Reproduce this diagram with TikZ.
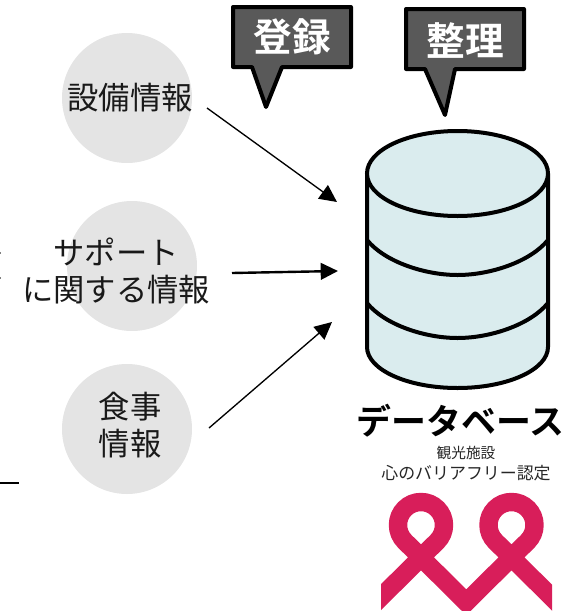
\documentclass[tikz,border=0pt]{standalone}
\usepackage{fontspec}
\setmainfont{Noto Sans CJK JP}
\newfontfamily\boldjp{Noto Sans CJK JP Bold}
\usetikzlibrary{arrows.meta}
\definecolor{circlegray}{RGB}{228,228,228}
\definecolor{calloutgray}{RGB}{89,89,89}
\definecolor{dbfill}{RGB}{218,236,238}
\definecolor{ribbonred}{RGB}{216,30,90}
\tikzset{
	infocircle/.style={circle,fill=circlegray,inner sep=0pt,minimum size=97.5pt},
	infotext/.style={inner sep=0pt,align=center,font=\fontsize{23.5}{28}\selectfont,text=black!90},
	calloutshape/.style={draw=black,fill=calloutgray,line width=3pt,line join=round},
	callouttext/.style={inner sep=0pt,text=white,font=\boldjp\fontsize{29}{34}\selectfont},
	dbline/.style={draw=black,line width=3pt},
	feedarrow/.style={-{Triangle[length=13pt,width=12.5pt]},line width=1pt},
}
\begin{document}
\begin{tikzpicture}[x=0.75pt,y=0.75pt,yscale=-1,xscale=1]
	\useasboundingbox (0,0) rectangle (564,611);
	% circles
	\node[infocircle] (equipcircle) at (127,98) {};
	\node[infocircle] (supportcircle) at (132,266) {};
	\node[infocircle] (mealcircle) at (127,429) {};
	\node[infotext] (equiptext) at (130,98) {設備情報};
	\node[infotext] (supporttext) at (116,271) {サポート\\に関する情報};
	\node[infotext] (mealtext) at (130,425) {食事\\情報};
	% left edge marks
	\coordinate (stubstart) at (0,483);
	\coordinate (stubend) at (19,483);
	\draw[line width=2pt] (stubstart) -- (stubend);
	\coordinate (marktop) at (0,253);
	\coordinate (marktopend) at (1.5,253);
	\coordinate (markbottom) at (0,278);
	\coordinate (markbottomend) at (1.5,278);
	\draw[black!50,line width=1.5pt] (marktop) -- (marktopend);
	\draw[black!50,line width=1.5pt] (markbottom) -- (markbottomend);
	% arrows
	\coordinate (equipout) at (207,108);
	\coordinate (equipin) at (337,202);
	\coordinate (supportout) at (232,273);
	\coordinate (supportin) at (338,271);
	\coordinate (mealout) at (209,428);
	\coordinate (mealin) at (332,322);
	\draw[feedarrow] (equipout) -- (equipin);
	\draw[feedarrow,line width=1.8pt] (supportout) -- (supportin);
	\draw[feedarrow] (mealout) -- (mealin);
	% callouts
	\draw[calloutshape] (233,7) -- (351,7) -- (351,67) -- (282,67) -- (266,107) -- (252,67) -- (233,67) -- cycle;
	\draw[calloutshape] (406,9) -- (524,9) -- (524,69) -- (455,69) -- (445,115) -- (425,69) -- (406,69) -- cycle;
	\node[callouttext] (registertext) at (292,37) {登録};
	\node[callouttext] (organizetext) at (465,41) {整理};
	% database
	\path[fill=dbfill,dbline] (367,173.5) -- (367,347) arc[start angle=180,end angle=0,x radius=90.5,y radius=41] -- (548,173.5);
	\path[fill=dbfill,dbline] (457.5,173.5) ellipse[x radius=90.5,y radius=42.5];
	\draw[dbline] (367,240) .. controls (385,262) and (425,275) .. (457.5,275) .. controls (490,275) and (530,262) .. (548,240);
	\draw[dbline] (367,303) .. controls (385,325) and (425,338) .. (457.5,338) .. controls (490,338) and (530,325) .. (548,303);
	\node[inner sep=0pt,font=\boldjp\fontsize{26.2}{30}\selectfont] (dbtitle) at (460.5,421) {データベース};
	\node[inner sep=0pt,text=black!85,font=\fontsize{11}{13}\selectfont] (certtop) at (466,453) {観光施設};
	\node[inner sep=0pt,text=black!85,font=\fontsize{12.7}{15}\selectfont] (certbottom) at (466,473) {心のバリアフリー認定};
	% ribbon
	\begin{scope}
		\clip (381,480) rectangle (552,611);
		\draw[ribbonred,line width=13.8pt,miter limit=10] (360,618) -- (437.26,541.26)
			arc[start angle=45,end angle=-225,radius=23]
			-- (466.25,602.25) -- (527.76,541.26)
			arc[start angle=45,end angle=-225,radius=23] -- (570,615.5);
	\end{scope}
\end{tikzpicture}
\end{document}
